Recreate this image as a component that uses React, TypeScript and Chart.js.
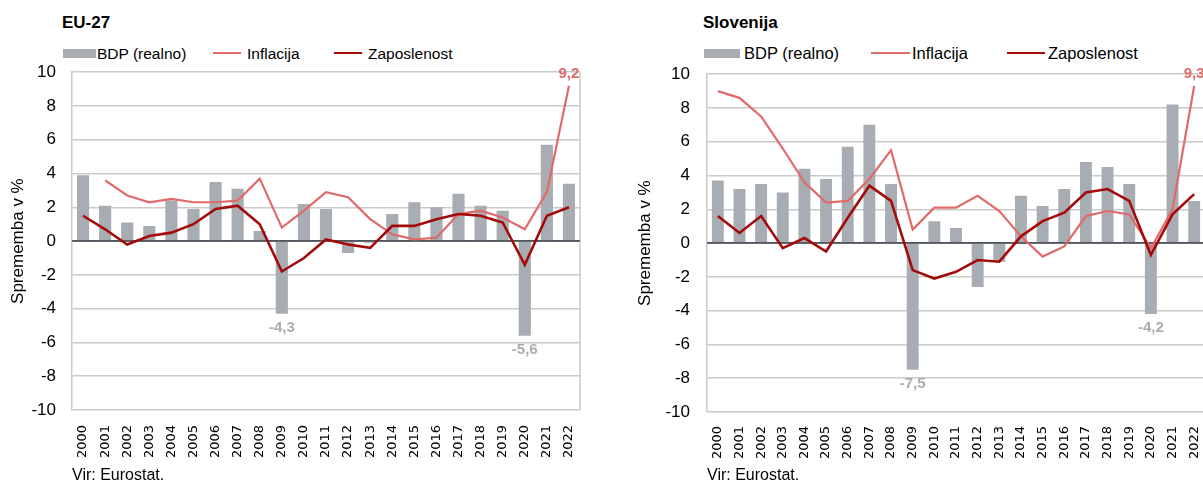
import React, { useEffect, useRef } from 'react';
import { Chart, registerables } from 'chart.js';

Chart.register(...registerables);

// ---------- data ----------
const years = ['2000', '2001', '2002', '2003', '2004', '2005', '2006', '2007', '2008', '2009', '2010', '2011',
  '2012', '2013', '2014', '2015', '2016', '2017', '2018', '2019', '2020', '2021', '2022'];

const yMin = -10;
const yMax = 10;
const yStep = 2;

const seriesNames = ['BDP (realno)', 'Inflacija', 'Zaposlenost'];

const euGdp = [3.9, 2.1, 1.1, 0.9, 2.4, 1.9, 3.5, 3.1, 0.6, -4.3, 2.2, 1.9, -0.7, -0.1, 1.6, 2.3, 2.0, 2.8, 2.1, 1.8, -5.6, 5.7, 3.4];
const euInflation = [null, 3.6, 2.7, 2.3, 2.5, 2.3, 2.3, 2.4, 3.7, 0.8, 1.8, 2.9, 2.6, 1.3, 0.4, 0.1, 0.2, 1.6, 1.8, 1.4, 0.7, 2.9, 9.2];
const euEmployment = [1.5, 0.7, -0.2, 0.3, 0.5, 1.0, 1.9, 2.1, 1.0, -1.8, -1.0, 0.1, -0.2, -0.4, 0.9, 0.9, 1.3, 1.6, 1.5, 1.1, -1.4, 1.5, 2.0];

const siGdp = [3.7, 3.2, 3.5, 3.0, 4.4, 3.8, 5.7, 7.0, 3.5, -7.5, 1.3, 0.9, -2.6, -1.1, 2.8, 2.2, 3.2, 4.8, 4.5, 3.5, -4.2, 8.2, 2.5];
const siInflation = [9.0, 8.6, 7.5, 5.6, 3.6, 2.4, 2.5, 3.8, 5.5, 0.8, 2.1, 2.1, 2.8, 1.9, 0.4, -0.8, -0.2, 1.6, 1.9, 1.7, -0.3, 2.0, 9.3];
const siEmployment = [1.6, 0.6, 1.6, -0.3, 0.3, -0.5, 1.5, 3.4, 2.5, -1.6, -2.1, -1.7, -1.0, -1.1, 0.4, 1.3, 1.8, 3.0, 3.2, 2.5, -0.7, 1.7, 2.9];

// years whose values carry a label
const euGdpLabelYears = ['2009', '2020'];
const euInflationLabelYears = ['2022'];
const siGdpLabelYears = ['2009', '2020'];
const siInflationLabelYears = ['2022'];

const sourceText = 'Vir: Eurostat.';
const axisTitle = 'Sprememba v %';

// ---------- styles ----------
const GDP_COLOR = '#a7adb2';
const INF_COLOR = '#e06a6a';
const EMP_COLOR = '#a50a0a';
const GRID_COLOR = '#cacaca';
const ZERO_COLOR = '#50555c';
const FONT = '"Liberation Sans", Arial, sans-serif';

function fmt(v: number) {
  return v.toFixed(1).replace('.', ',');
}

const framePlugin = {
  id: 'frame',
  beforeDatasetsDraw(chart: any) {
    const { ctx, chartArea } = chart;
    ctx.save();
    ctx.strokeStyle = GRID_COLOR;
    ctx.lineWidth = 1.5;
    ctx.beginPath();
    ctx.moveTo(chartArea.right, chartArea.top);
    ctx.lineTo(chartArea.right, chartArea.bottom);
    ctx.stroke();
    ctx.restore();
  },
  afterDatasetDraw(chart: any, args: any) {
    if (args.index !== 0) return;
    const { ctx, chartArea } = chart;
    const y = chart.scales.y.getPixelForValue(0);
    ctx.save();
    ctx.strokeStyle = ZERO_COLOR;
    ctx.lineWidth = 1.5;
    ctx.beginPath();
    ctx.moveTo(chartArea.left, y);
    ctx.lineTo(chartArea.right, y);
    ctx.stroke();
    ctx.restore();
  },
};

const valueLabelPlugin = {
  id: 'valueLabels',
  afterDatasetsDraw(chart: any, _args: any, opts: any) {
    const { ctx } = chart;
    const items = (opts && opts.items) || [];
    items.forEach((item: any) => {
      const meta = chart.getDatasetMeta(item.dataset);
      const data = chart.data.datasets[item.dataset].data;
      item.years.forEach((yr: string) => {
        const i = chart.data.labels.indexOf(yr);
        const el = meta.data[i];
        const v = data[i];
        if (!el || v == null) return;
        ctx.save();
        ctx.font = 'bold 15px ' + FONT;
        ctx.fillStyle = item.color;
        ctx.textAlign = 'center';
        ctx.textBaseline = 'middle';
        ctx.fillText(fmt(v), el.x, el.y + item.offset);
        ctx.restore();
      });
    });
  },
};

type PanelProps = {
  title: string;
  gdp: (number | null)[];
  inflation: (number | null)[];
  employment: (number | null)[];
  gdpLabelYears: string[];
  inflationLabelYears: string[];
  layout: any;
};

function ChartCanvas({ gdp, inflation, employment, gdpLabelYears, inflationLabelYears, layout }: PanelProps) {
  const ref = useRef<HTMLCanvasElement | null>(null);
  useEffect(() => {
    if (!ref.current) return;
    const chart = new Chart(ref.current, {
      type: 'bar',
      data: {
        labels: years,
        datasets: [
          {
            type: 'bar',
            label: seriesNames[0],
            data: gdp,
            backgroundColor: GDP_COLOR,
            barPercentage: 0.55,
            categoryPercentage: 1,
            order: 2,
          },
          {
            type: 'line',
            label: seriesNames[1],
            data: inflation,
            borderColor: INF_COLOR,
            borderWidth: 2.2,
            pointRadius: 0,
            tension: 0,
            order: 1,
          },
          {
            type: 'line',
            label: seriesNames[2],
            data: employment,
            borderColor: EMP_COLOR,
            borderWidth: 2.6,
            pointRadius: 0,
            tension: 0,
            order: 0,
          },
        ] as any,
      },
      options: {
        responsive: false,
        animation: false,
        events: [],
        layout: { padding: { top: 0, right: layout.padRight, left: 0, bottom: 0 } },
        plugins: {
          legend: { display: false },
          tooltip: { enabled: false },
          valueLabels: {
            items: [
              { dataset: 0, years: gdpLabelYears, color: GDP_COLOR, offset: 14 },
              { dataset: 1, years: inflationLabelYears, color: INF_COLOR, offset: -12 },
            ],
          },
        } as any,
        scales: {
          x: {
            grid: { display: false },
            border: { display: false },
            ticks: {
              autoSkip: false,
              maxRotation: 90,
              minRotation: 90,
              padding: layout.xPad,
              color: '#000',
              font: { family: '"DejaVu Sans", Verdana, sans-serif', size: 13 },
            },
            afterFit: (s: any) => { s.height = layout.xHeight; },
          },
          y: {
            min: yMin,
            max: yMax,
            grid: {
              color: (c: any) => (c.tick && c.tick.value === 0 ? ZERO_COLOR : GRID_COLOR),
              lineWidth: 1.5,
              drawTicks: false,
            },
            border: { color: GRID_COLOR, width: 1.5 },
            ticks: {
              stepSize: yStep,
              padding: layout.yPad,
              color: '#000',
              font: { family: FONT, size: 17 },
            },
            title: {
              display: true,
              text: axisTitle,
              color: '#000',
              font: { family: FONT, size: 17 },
              padding: { top: layout.titlePad, bottom: 0 },
            },
            afterFit: (s: any) => { s.width = layout.yWidth; },
          },
        },
      },
      plugins: [framePlugin, valueLabelPlugin],
    });
    return () => chart.destroy();
  }, []);
  return (
    <canvas
      ref={ref}
      width={layout.cw}
      height={layout.ch}
      style={{ position: 'absolute', left: layout.cx, top: layout.cy, width: layout.cw, height: layout.ch }}
    />
  );
}

function Legend({ layout }: { layout: any }) {
  const L = layout.legend;
  const fs = L.fontSize;
  const textTop = L.baseline - ((fs - 1.117 * fs) / 2 + 0.905 * fs);
  const txt = (left: number, s: string) => (
    <div style={{ position: 'absolute', left, top: textTop, fontSize: fs, lineHeight: fs + 'px', whiteSpace: 'nowrap' }}>{s}</div>
  );
  return (
    <>
      <div style={{ position: 'absolute', left: L.box[0], top: 49, width: L.box[1] - L.box[0], height: 9, background: GDP_COLOR }} />
      {txt(L.t0, seriesNames[0])}
      <div style={{ position: 'absolute', left: L.l1[0], top: 51.5, width: L.l1[1] - L.l1[0], height: 2.2, background: INF_COLOR }} />
      {txt(L.t1, seriesNames[1])}
      <div style={{ position: 'absolute', left: L.l2[0], top: 51.5, width: L.l2[1] - L.l2[0], height: 2.6, background: EMP_COLOR }} />
      {txt(L.t2, seriesNames[2])}
    </>
  );
}

function Panel(props: PanelProps) {
  const { layout, title } = props;
  return (
    <>
      <div style={{ position: 'absolute', left: layout.titleX, top: 14, fontSize: 17, lineHeight: '17px', fontWeight: 'bold', whiteSpace: 'nowrap' }}>{title}</div>
      <Legend layout={layout} />
      <ChartCanvas {...props} />
      <div style={{ position: 'absolute', left: layout.srcX, top: 467, fontSize: 16, lineHeight: '16px', whiteSpace: 'nowrap' }}>{sourceText}</div>
    </>
  );
}

const leftLayout = {
  titleX: 62,
  srcX: 72,
  cx: 0, cy: 46, cw: 600, ch: 423,
  padRight: 20,
  yWidth: 72, yPad: 16, titlePad: 8,
  xHeight: 59, xPad: 7,
  legend: { fontSize: 15.5, baseline: 59.3, box: [63, 96], t0: 97, l1: [213, 241], t1: 247, l2: [334, 362], t2: 368 },
};

const rightLayout = {
  titleX: 703,
  srcX: 707,
  cx: 620, cy: 47, cw: 600, ch: 423,
  padRight: 15,
  yWidth: 87, yPad: 17, titlePad: 15,
  xHeight: 58, xPad: 6,
  legend: { fontSize: 16.5, baseline: 59.3, box: [704, 740], t0: 744, l1: [871, 910], t1: 912, l2: [1007, 1045], t2: 1048 },
};

export default function App() {
  return (
    <div style={{ position: 'fixed', left: 0, top: 0, width: 1203, height: 483, overflow: 'hidden', background: '#fff', fontFamily: FONT, color: '#000' }}>
      <Panel title="EU-27" gdp={euGdp} inflation={euInflation} employment={euEmployment}
        gdpLabelYears={euGdpLabelYears} inflationLabelYears={euInflationLabelYears} layout={leftLayout} />
      <Panel title="Slovenija" gdp={siGdp} inflation={siInflation} employment={siEmployment}
        gdpLabelYears={siGdpLabelYears} inflationLabelYears={siInflationLabelYears} layout={rightLayout} />
    </div>
  );
}
